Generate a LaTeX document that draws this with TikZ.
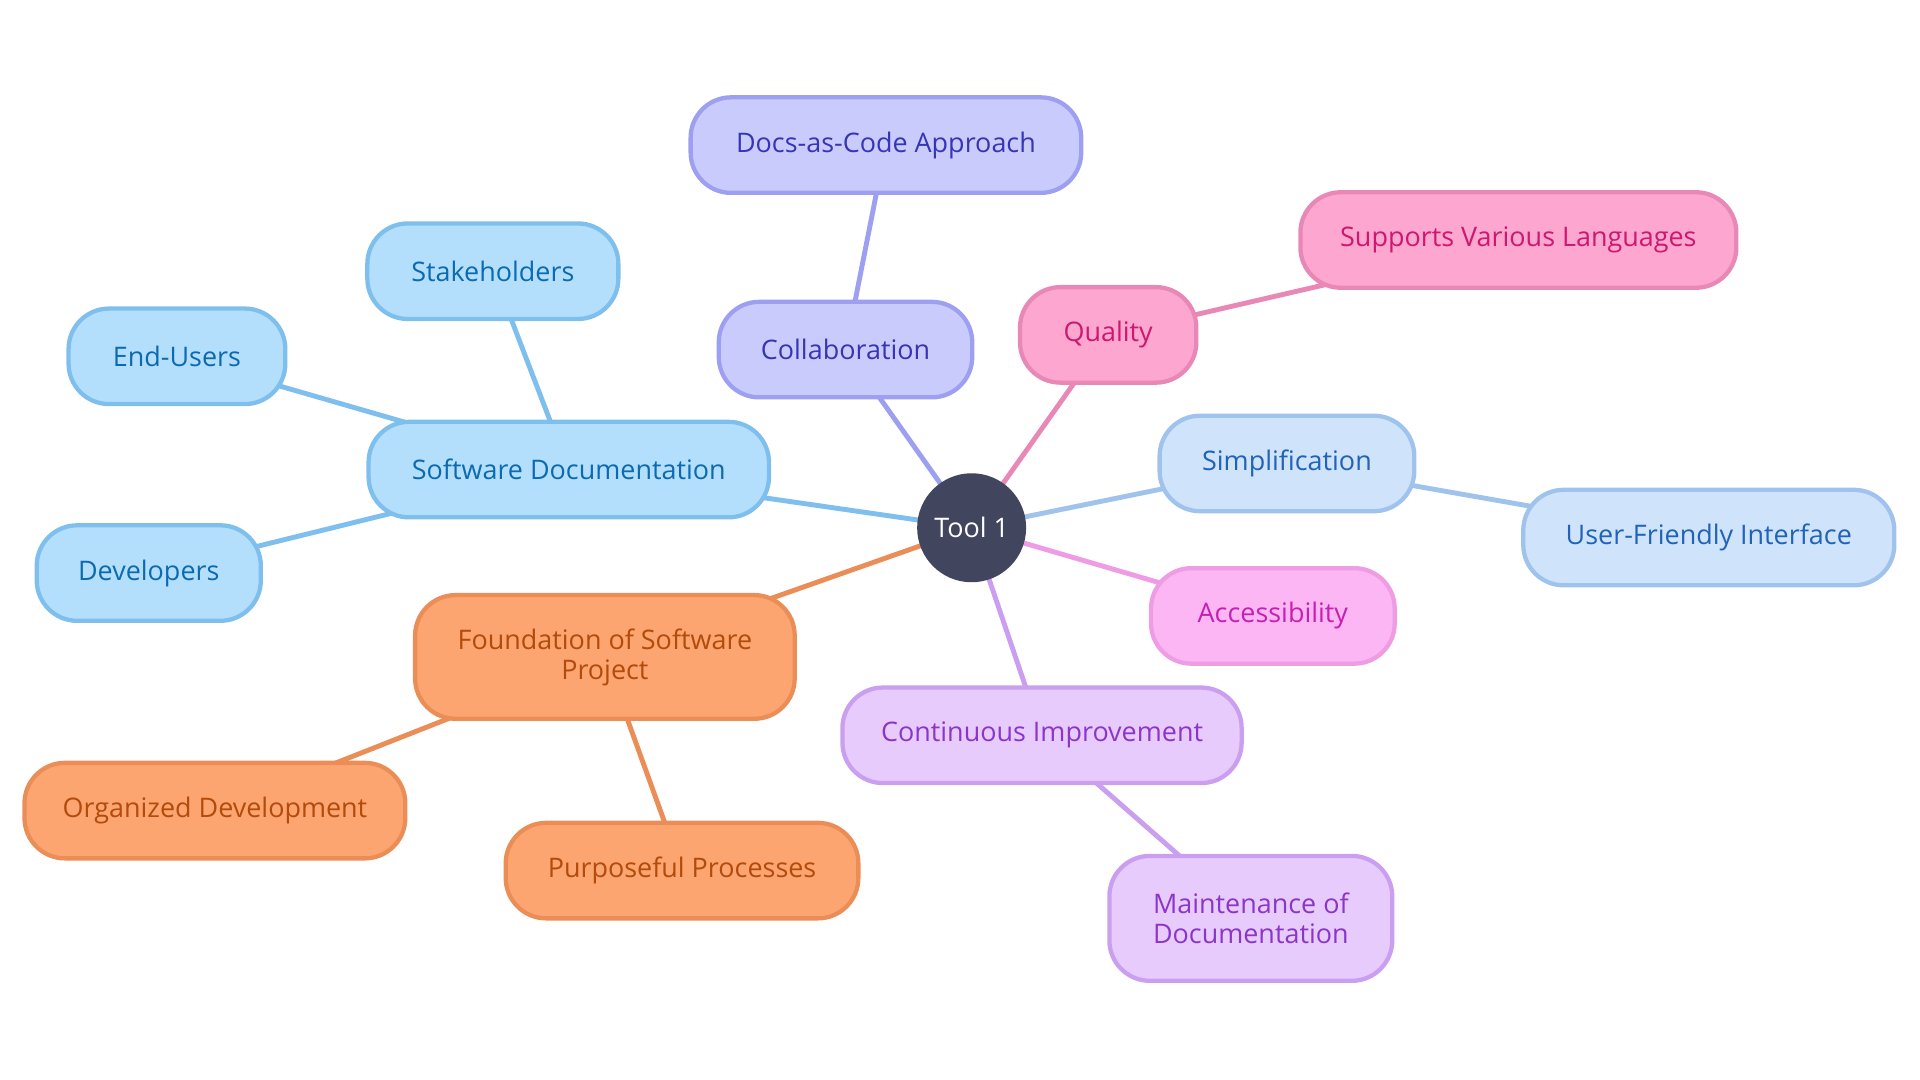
\documentclass[tikz,border=0pt]{standalone}
\usepackage{fontspec}
\setmainfont{Open Sans}
\usetikzlibrary{backgrounds}
\definecolor{rootfill}{HTML}{41455E}
\definecolor{sdF}{HTML}{B3DFFD}\definecolor{sdB}{HTML}{7FBFEE}\definecolor{sdT}{HTML}{0C6AB0}
\definecolor{coF}{HTML}{CACBFD}\definecolor{coB}{HTML}{9D9FF0}\definecolor{coT}{HTML}{3535B5}
\definecolor{quF}{HTML}{FDA6CF}\definecolor{quB}{HTML}{E888B6}\definecolor{quT}{HTML}{CC1870}
\definecolor{siF}{HTML}{CFE3FB}\definecolor{siB}{HTML}{9FC3EC}\definecolor{siT}{HTML}{2063B8}
\definecolor{acF}{HTML}{FDB6F4}\definecolor{acB}{HTML}{EE9CE4}\definecolor{acT}{HTML}{C520B0}
\definecolor{ciF}{HTML}{E7CBFD}\definecolor{ciB}{HTML}{CB9FF0}\definecolor{ciT}{HTML}{8C36C8}
\definecolor{foF}{HTML}{FDA570}\definecolor{foB}{HTML}{EA8D57}\definecolor{foT}{HTML}{B24B0B}
\tikzset{
  mbox/.style={draw, rounded corners=33pt, line width=3.5pt, inner sep=0pt,
    minimum height=78pt, align=center, font=\fontsize{22}{24.5}\selectfont},
  sd/.style={mbox, fill=sdF, draw=sdB, text=sdT},
  co/.style={mbox, fill=coF, draw=coB, text=coT},
  qu/.style={mbox, fill=quF, draw=quB, text=quT},
  si/.style={mbox, fill=siF, draw=siB, text=siT},
  ac/.style={mbox, fill=acF, draw=acB, text=acT},
  ci/.style={mbox, fill=ciF, draw=ciB, text=ciT},
  fo/.style={mbox, fill=foF, draw=foB, text=foT},
  edge/.style={line width=4pt},
}
\begin{document}
\begin{tikzpicture}[x=1pt,y=-1pt]
\useasboundingbox (0,0) rectangle (1568,882);
\node[circle, fill=rootfill, text=white, minimum size=89pt, inner sep=0pt, font=\fontsize{22}{24}\selectfont] (root) at (793.5,431) {Tool 1};
\node[sd, minimum width=327pt] (sd) at (464.5,383.5) {Software Documentation};
\node[sd, minimum width=205pt] (sh) at (402.5,221.5) {Stakeholders};
\node[sd, minimum width=177pt] (eu) at (144.5,291) {End-Users};
\node[sd, minimum width=183pt] (dev) at (121.5,468) {Developers};
\node[co, minimum width=319pt] (doc) at (723.5,118.5) {Docs-as-Code Approach};
\node[co, minimum width=207pt] (col) at (690.5,285.5) {Collaboration};
\node[qu, minimum width=144pt] (qua) at (905,273.5) {Quality};
\node[qu, minimum width=356pt] (sup) at (1240,196) {Supports Various Languages};
\node[si, minimum width=208pt] (sim) at (1051,378.5) {Simplification};
\node[si, minimum width=303pt] (ufi) at (1395.5,439) {User-Friendly Interface};
\node[ac, minimum width=199pt] (acc) at (1039.5,503) {Accessibility};
\node[ci, minimum width=326pt] (con) at (851,600.5) {Continuous Improvement};
\node[ci, minimum width=231pt, minimum height=102pt] (mai) at (1021.5,750) {Maintenance of\\Documentation};
\node[fo, minimum width=310pt, minimum height=101pt] (fou) at (494,536.5) {Foundation of Software\\Project};
\node[fo, minimum width=311pt] (org) at (175.5,662) {Organized Development};
\node[fo, minimum width=288pt] (pur) at (557,711) {Purposeful Processes};
\begin{scope}[on background layer]
\draw[edge, sdB] (root.center) -- (sd.center);
\draw[edge, sdB] (sd.center) -- (sh.center);
\draw[edge, sdB] (sd.center) -- (eu.center);
\draw[edge, sdB] (sd.center) -- (dev.center);
\draw[edge, coB] (root.center) -- (col.center);
\draw[edge, coB] (col.center) -- (doc.center);
\draw[edge, quB] (root.center) -- (qua.center);
\draw[edge, quB] (qua.center) -- (sup.center);
\draw[edge, siB] (root.center) -- (sim.center);
\draw[edge, siB] (sim.center) -- (ufi.center);
\draw[edge, acB] (root.center) -- (acc.center);
\draw[edge, ciB] (root.center) -- (con.center);
\draw[edge, ciB] (con.center) -- (mai.center);
\draw[edge, foB] (root.center) -- (fou.center);
\draw[edge, foB] (fou.center) -- (org.center);
\draw[edge, foB] (fou.center) -- (pur.center);
\end{scope}
\end{tikzpicture}
\end{document}
